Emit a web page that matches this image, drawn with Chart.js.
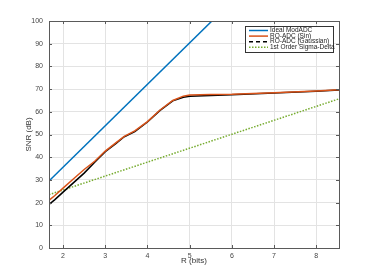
<!DOCTYPE html>
<html><head><meta charset="utf-8">
<script src="https://cdn.jsdelivr.net/npm/chart.js@4"></script>
<style>html,body{margin:0;padding:0;background:#fff}#wrap{width:374px;height:280px}</style>
</head><body><div id="wrap"><canvas id="c" width="374" height="280"></canvas></div>
<script>
const seriesNames = ['Ideal ModADC', 'RO-ADC (Sin)', 'RO-ADC (Gaussian)', '1st Order Sigma-Delta'];
const idealX = [1.667, 8.54];
const idealY = [29.5, 155.0];
const roX = [1.667, 1.8, 2, 2.25, 2.5, 2.75, 3, 3.25, 3.45, 3.7, 4, 4.3, 4.6, 4.85, 5, 5.5, 6, 7, 8, 8.54];
const roSinY = [21.0, 23.0, 26.4, 30.5, 34.6, 38.2, 42.7, 46.3, 49.2, 51.6, 55.7, 60.8, 65.0, 66.9, 67.4, 67.6, 67.7, 68.4, 69.2, 69.7];
const roGaussY = [19.2, 21.2, 24.6, 28.8, 33.0, 37.8, 42.4, 46.0, 49.0, 51.3, 55.5, 60.6, 64.8, 66.4, 66.8, 67.2, 67.5, 68.3, 69.1, 69.6];
const sdX = [1.667, 8.54];
const sdY = [23.5, 65.7];
const xTicks = [2, 3, 4, 5, 6, 7, 8];
const yTicks = [0, 10, 20, 30, 40, 50, 60, 70, 80, 90, 100];

const colors = ['#0072BD', '#D95319', '#000000', '#77AC30'];
const dashes = [[], [], [4, 3], [1.5, 1.5]];
const pts = (xs, ys) => xs.map((x, i) => ({x, y: ys[i]}));
const FONT = 'Liberation Sans, Arial, Helvetica, sans-serif';

const boxPlugin = {
  id: 'box',
  afterDraw(chart) {
    const {ctx, chartArea: a, scales} = chart;
    ctx.save();
    ctx.strokeStyle = '#5a5a5a';
    ctx.lineWidth = 1;
    ctx.strokeRect(Math.round(a.left) + 0.5, Math.round(a.top) + 0.5, Math.round(a.right - a.left), Math.round(a.bottom - a.top));
    // inner ticks
    ctx.beginPath();
    xTicks.forEach(v => {
      const px = Math.round(scales.x.getPixelForValue(v)) + 0.5;
      ctx.moveTo(px, a.bottom); ctx.lineTo(px, a.bottom - 3);
      ctx.moveTo(px, a.top); ctx.lineTo(px, a.top + 3);
    });
    yTicks.forEach(v => {
      const py = Math.round(scales.y.getPixelForValue(v)) + 0.5;
      ctx.moveTo(a.left, py); ctx.lineTo(a.left + 3, py);
      ctx.moveTo(a.right, py); ctx.lineTo(a.right - 3, py);
    });
    ctx.stroke();
    // legend
    const lx = 245, ly = 26, lw = 88, lh = 26;
    ctx.fillStyle = '#fff';
    ctx.fillRect(lx, ly, lw, lh);
    ctx.strokeStyle = '#333';
    ctx.strokeRect(lx + 0.5, ly + 0.5, lw, lh);
    ctx.font = '6.5px ' + FONT;
    ctx.textBaseline = 'middle';
    seriesNames.forEach((name, i) => {
      const y = ly + 4.5 + i * 5.6;
      ctx.beginPath();
      ctx.strokeStyle = colors[i];
      ctx.lineWidth = 1.5;
      ctx.setLineDash(dashes[i]);
      ctx.moveTo(lx + 4, y); ctx.lineTo(lx + 23, y);
      ctx.stroke();
      ctx.setLineDash([]);
      ctx.fillStyle = '#222';
      ctx.fillText(name, lx + 25, y);
    });
    ctx.restore();
  }
};

new Chart(document.getElementById('c'), {
  type: 'scatter',
  data: {
    datasets: [
      {label: seriesNames[0], data: pts(idealX, idealY), borderColor: colors[0]},
      {label: seriesNames[1], data: pts(roX, roSinY), borderColor: colors[1]},
      {label: seriesNames[2], data: pts(roX, roGaussY), borderColor: colors[2]},
      {label: seriesNames[3], data: pts(sdX, sdY), borderColor: colors[3], borderDash: [1.5, 1.5]}
    ].map(d => Object.assign({showLine: true, pointRadius: 0, borderWidth: 1.5, tension: 0, fill: false}, d))
  },
  options: {
    responsive: false,
    animation: false,
    devicePixelRatio: 1,
    layout: {padding: {left: 0, right: 35, top: 21, bottom: 0}},
    plugins: {legend: {display: false}, tooltip: {enabled: false}},
    scales: {
      x: {
        type: 'linear', min: 1.667, max: 8.54,
        afterBuildTicks: s => { s.ticks = xTicks.map(v => ({value: v})); },
        afterFit: s => { s.height = 32; },
        grid: {color: '#e3e3e3', drawTicks: false},
        border: {display: false},
        ticks: {padding: 4, color: '#444', font: {size: 7, family: FONT}, maxRotation: 0},
        title: {display: true, text: 'R (bits)', color: '#333', font: {size: 8, family: FONT}, padding: {top: 0, bottom: 14}}
      },
      y: {
        type: 'linear', min: 0, max: 100,
        afterBuildTicks: s => { s.ticks = yTicks.map(v => ({value: v})); },
        afterFit: s => { s.width = 49; },
        grid: {color: '#e3e3e3', drawTicks: false},
        border: {display: false},
        ticks: {padding: 6, color: '#444', font: {size: 7, family: FONT}},
        title: {display: true, text: 'SNR (dB)', color: '#333', font: {size: 8, family: FONT}, padding: {top: 24, bottom: 0}}
      }
    }
  },
  plugins: [boxPlugin]
});
</script>
</body></html>
